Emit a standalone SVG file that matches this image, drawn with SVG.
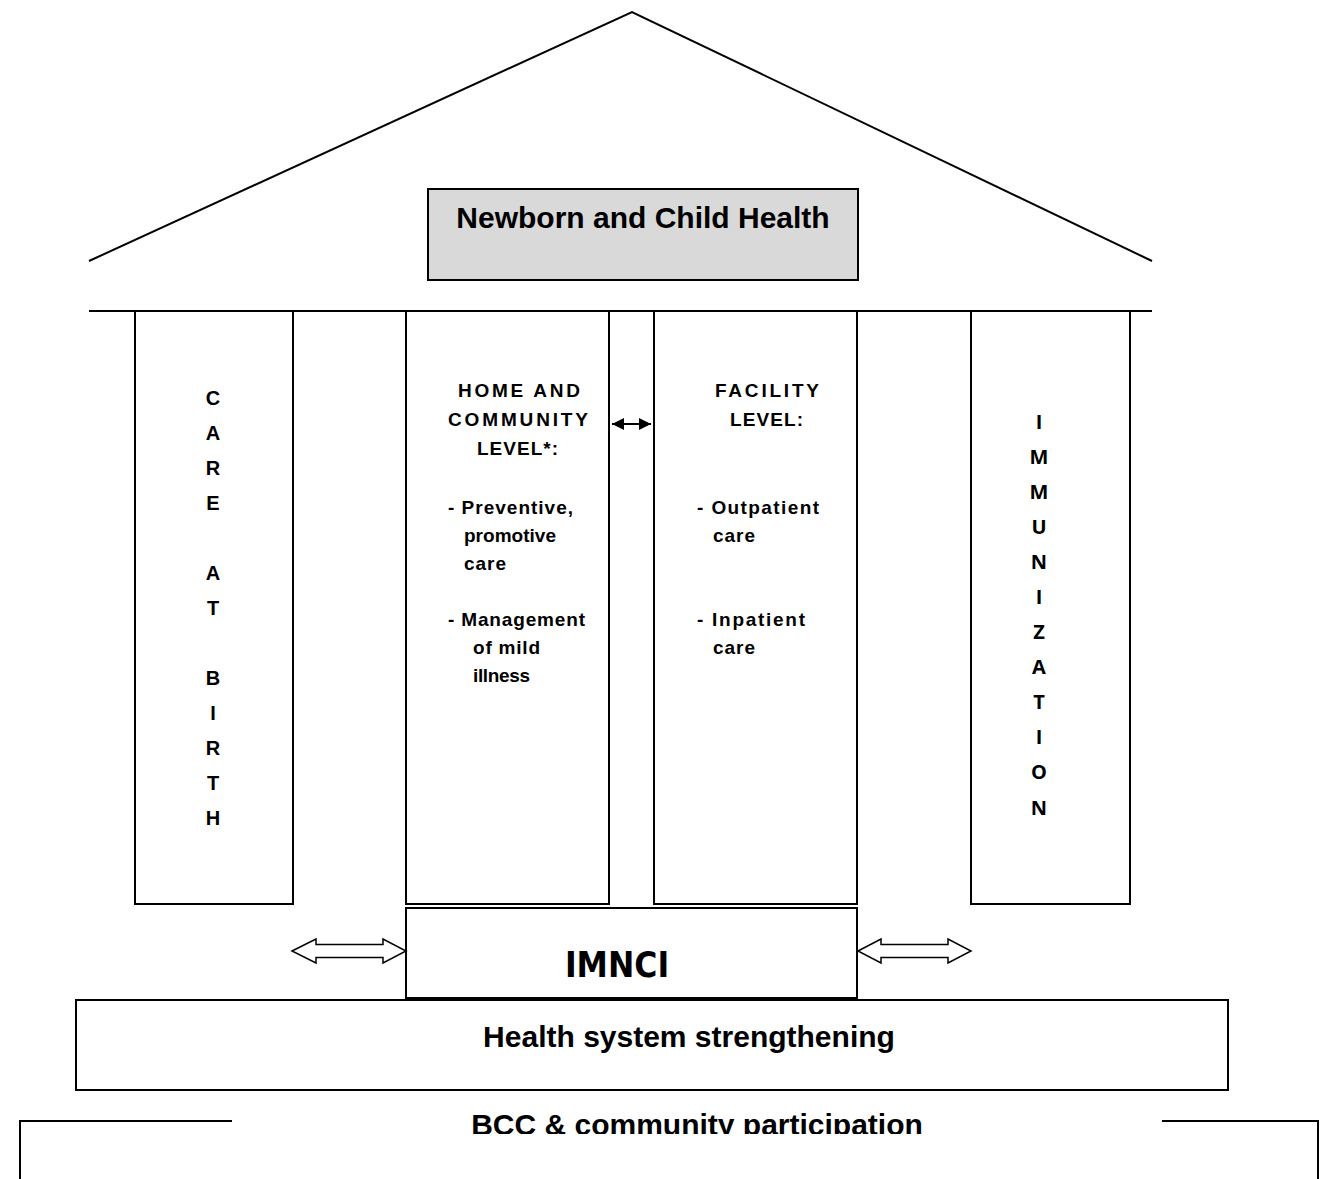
<svg xmlns="http://www.w3.org/2000/svg" width="1326" height="1179" viewBox="0 0 1326 1179">
<defs>
<style>
.ln{fill:none;stroke:#000;stroke-width:2}
.box{fill:#fff;stroke:#000;stroke-width:2}
.big{font-family:"Liberation Sans",Arial,sans-serif;font-weight:bold;font-size:30px;fill:#000}
.pt{font-family:"Liberation Sans",Arial,sans-serif;font-weight:bold;font-size:19px;fill:#000}
.care{font-family:"Liberation Sans",Arial,sans-serif;font-weight:bold;font-size:20px;fill:#000;text-anchor:middle}
.imm{font-family:"Open Sans","Liberation Sans",sans-serif;font-weight:bold;font-size:20px;fill:#000;text-anchor:middle}
.harrow{fill:#fff;stroke:#000;stroke-width:1.5}
</style>
<marker id="ah" viewBox="0 0 10 10" refX="10" refY="5" markerWidth="6" markerHeight="6" orient="auto-start-reverse" markerUnits="strokeWidth">
<path d="M0,0 L10,5 L0,10 z" fill="#000"/>
</marker>
<clipPath id="bccclip"><rect x="0" y="1090" width="1326" height="44"/></clipPath>
</defs>

<g id="roof">
<polyline class="ln" points="89,261 632,12 1152,261"/>
<line class="ln" x1="89" y1="311" x2="1152" y2="311"/>
</g>

<g id="title">
<rect x="428" y="189" width="430" height="91" fill="#d9d9d9" stroke="#000" stroke-width="2"/>
<text class="big" x="643" y="228" text-anchor="middle">Newborn and Child Health</text>
</g>

<g id="care-at-birth">
<rect class="box" x="135" y="311" width="158" height="593"/>
<text class="care" x="213" y="405">C</text>
<text class="care" x="213" y="440">A</text>
<text class="care" x="213" y="475">R</text>
<text class="care" x="213" y="510">E</text>
<text class="care" x="213" y="580">A</text>
<text class="care" x="213" y="615">T</text>
<text class="care" x="213" y="685">B</text>
<text class="care" x="213" y="720">I</text>
<text class="care" x="213" y="755">R</text>
<text class="care" x="213" y="790">T</text>
<text class="care" x="213" y="825">H</text>
</g>

<g id="home-community">
<rect class="box" x="406" y="311" width="203" height="593"/>
<text class="pt" x="458" y="397" textLength="122" lengthAdjust="spacing">HOME AND</text>
<text class="pt" x="448" y="426" textLength="140" lengthAdjust="spacing">COMMUNITY</text>
<text class="pt" x="477" y="455" textLength="81" lengthAdjust="spacing">LEVEL*:</text>
<text class="pt" x="448" y="514" textLength="125" lengthAdjust="spacing">- Preventive,</text>
<text class="pt" x="464" y="542" textLength="92" lengthAdjust="spacing">promotive</text>
<text class="pt" x="464" y="570" textLength="42" lengthAdjust="spacing">care</text>
<text class="pt" x="448" y="626" textLength="137" lengthAdjust="spacing">- Management</text>
<text class="pt" x="473" y="654" textLength="67" lengthAdjust="spacing">of mild</text>
<text class="pt" x="473" y="682" textLength="57" lengthAdjust="spacing">illness</text>
</g>

<g id="facility">
<rect class="box" x="654" y="311" width="203" height="593"/>
<text class="pt" x="715" y="397" textLength="104" lengthAdjust="spacing">FACILITY</text>
<text class="pt" x="730" y="426" textLength="73" lengthAdjust="spacing">LEVEL:</text>
<text class="pt" x="697" y="514" textLength="122" lengthAdjust="spacing">- Outpatient</text>
<text class="pt" x="713" y="542" textLength="42" lengthAdjust="spacing">care</text>
<text class="pt" x="697" y="626" textLength="108" lengthAdjust="spacing">- Inpatient</text>
<text class="pt" x="713" y="654" textLength="42" lengthAdjust="spacing">care</text>
</g>

<g id="immunization">
<rect class="box" x="971" y="311" width="159" height="593"/>
<text class="imm" x="1039" y="429">I</text>
<text class="imm" x="1039" y="464">M</text>
<text class="imm" x="1039" y="499">M</text>
<text class="imm" x="1039" y="534">U</text>
<text class="imm" x="1039" y="569">N</text>
<text class="imm" x="1039" y="604">I</text>
<text class="imm" x="1039" y="639">Z</text>
<text class="imm" x="1039" y="674">A</text>
<text class="imm" x="1039" y="709">T</text>
<text class="imm" x="1039" y="744">I</text>
<text class="imm" x="1039" y="779">O</text>
<text class="imm" x="1039" y="815">N</text>
</g>

<g id="imnci">
<rect class="box" x="406" y="908" width="451" height="90"/>
<text x="617" y="977" text-anchor="middle" font-family="DejaVu Sans Condensed, DejaVu Sans, sans-serif" font-weight="bold" font-size="35" fill="#000">IMNCI</text>
</g>

<g id="health-system">
<rect class="box" x="76" y="1000" width="1152" height="90"/>
<text class="big" x="689" y="1047" text-anchor="middle">Health system strengthening</text>
</g>

<g id="bcc">
<polyline class="ln" points="20,1179 20,1121 232,1121"/>
<polyline class="ln" points="1162,1121 1318,1121 1318,1179"/>
<text class="big" x="697" y="1135" text-anchor="middle" clip-path="url(#bccclip)">BCC &amp; community participation</text>
</g>

<g id="connectors">
<line x1="612" y1="424" x2="651" y2="424" stroke="#000" stroke-width="2" marker-start="url(#ah)" marker-end="url(#ah)"/>
<polygon class="harrow" points="292,951 316,939 316,944.5 383,944.5 383,939 406,951 383,963 383,957.5 316,957.5 316,963"/>
<polygon class="harrow" points="858,951 881,939 881,944.5 948,944.5 948,939 971,951 948,963 948,957.5 881,957.5 881,963"/>
</g>
</svg>
